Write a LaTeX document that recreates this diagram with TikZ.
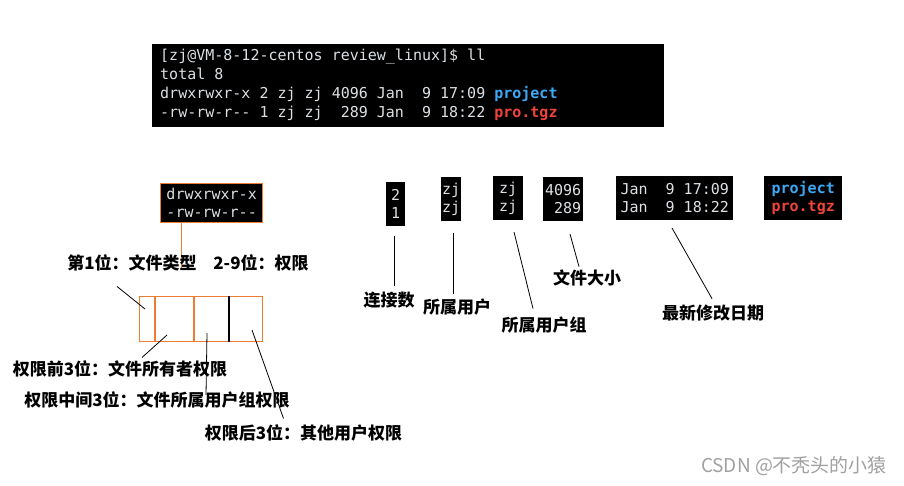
\documentclass[tikz,border=0pt]{standalone}
\usepackage{fontspec}
\usepackage{xcolor}
\usepackage{tikz}
\usetikzlibrary{calc}
\newfontfamily\termfont{DejaVu Sans Mono}
\newfontfamily\cjkfont{Noto Sans CJK SC}
\definecolor{orng}{HTML}{ED7D31}
\definecolor{termfg}{HTML}{DCE0E4}
\definecolor{dirc}{HTML}{3DA8F5}
\definecolor{tgzc}{HTML}{F0453A}
\definecolor{wmark}{HTML}{A0A0A0}
\tikzset{
  term/.style={fill=black, inner sep=0pt, anchor=north west},
  tline/.style={text=termfg, font=\termfont\fontsize{15}{18}\selectfont, anchor=base west, inner sep=0pt},
  cell/.style={fill=black, text=termfg, font=\termfont\fontsize{15}{18}\selectfont,
               inner xsep=1pt, inner ysep=0pt, anchor=north west, minimum height=44pt, align=left},
  lab/.style={font=\cjkfont\bfseries\fontsize{17}{20}\selectfont, inner sep=1pt},
  ptr/.style={draw=black, line width=0.8pt},
  oline/.style={draw=orng, line width=1.1pt},
}

\begin{document}
\begin{tikzpicture}[x=1pt, y=-1pt]
  \useasboundingbox (0,0) rectangle (904,485);
  % terminal output
  \node[term, minimum width=512pt, minimum height=83pt] (term) at (152,44) {};
  \foreach \y/\t in {60/{[zj@VM-8-12-centos review\_linux]\$ ll}, 79/{total 8},
                     98/{drwxrwxr-x 2 zj zj 4096 Jan~~9 17:09 \textcolor{dirc}{\bfseries project}},
                     117/{-rw-rw-r-- 1 zj zj~~289 Jan~~9 18:22 \textcolor{tgzc}{\bfseries pro.tgz}}}
    \node[tline] (ln\y) at (160,\y) {\t};

  % permission bits
  \node[cell, draw=orng, line width=1.3pt, minimum width=102pt, minimum height=39pt] (blk) at (160,183)
    {drwxrwxr-x\\-rw-rw-r--};
  \coordinate (otip) at (181.7,270);
  \draw[oline] (blk.south -| otip) -- (otip);
  \node[lab] (typl) at (132,263) {第1位：文件类型};
  \node[lab] (rngl) at (261,263) {2-9位：权限};

  \node[draw=orng, line width=1.1pt, minimum width=123pt, minimum height=45pt, inner sep=0pt,
        anchor=north west] (perm) at (139,296) {};
  \foreach \dx in {16,55}
    \draw[oline] ($(perm.north west)+(\dx,0)$) -- ($(perm.south west)+(\dx,0)$);
  \draw[ptr, line width=1.1pt] ($(perm.north west)+(90,0)$) -- ($(perm.south west)+(90,0)$);

  \coordinate (c1) at (145,309);
  \coordinate (c2) at (167,335);
  \coordinate (c3) at (207,333);
  \coordinate (c4) at (252,330);
  \node[lab] (ownl) at (120,369) {权限前3位：文件所有者权限};
  \node[lab] (midl) at (157,400) {权限中间3位：文件所属用户组权限};
  \node[lab] (othl) at (303.5,433) {权限后3位：其他用户权限};
  \draw[ptr] ([xshift=-15pt,yshift=-14pt]typl.south) -- (c1);
  \draw[ptr] (c2) -- ([xshift=22pt,yshift=2pt]ownl.north);
  \draw[ptr] (c3) -- ([xshift=49pt,yshift=5pt]midl.center);
  \draw[ptr] (c4) -- ([xshift=-20pt,yshift=5pt]othl.north);

  % the other columns
  \foreach \x/\y/\w/\n/\t in {386/182/19/lnk/{2\\1}, 441/177/20/own/{zj\\zj}, 493/176/30/grp/{zj\\zj},
                              616/176/117/dat/{Jan~~9 17:09\\Jan~~9 18:22}}
    \node[cell, minimum width=\w pt] (\n) at (\x,\y) {\t};
  \node[cell, minimum width=40pt, align=right] (siz) at (543,177) {4096\\289};
  \node[cell, minimum width=78pt] (nam) at (764,176)
    {\textcolor{dirc}{\bfseries project}\\\textcolor{tgzc}{\bfseries pro.tgz}};

  \node[lab] (lnkl) at (389,300) {连接数};
  \node[lab] (usrl) at (457,307) {所属用户};
  \node[lab] (grpl) at (544,325) {所属用户组};
  \node[lab] (sizl) at (587,278) {文件大小};
  \node[lab] (datl) at (713,313) {最新修改日期};
  \coordinate (p1) at (394,236);
  \coordinate (p2) at (453,233);
  \coordinate (p3) at (514,232);
  \coordinate (p4) at (570,234);
  \coordinate (p5) at (672,228);
  \draw[ptr] (p1) -- ([xshift=5pt,yshift=5pt]lnkl.north);
  \draw[ptr] (p2) -- ([xshift=-4pt,yshift=4pt]usrl.north);
  \draw[ptr] (p3) -- ([xshift=-11pt,yshift=7pt]grpl.north);
  \draw[ptr] (p4) -- ([xshift=-8pt,yshift=2pt]sizl.north);
  \draw[ptr] (p5) -- ([xshift=-1pt,yshift=5pt]datl.north);

  \node[font=\cjkfont\fontsize{19}{22}\selectfont, text=wmark, inner sep=0pt] (wm) at (794,466)
    {CSDN @不秃头的小猿};
\end{tikzpicture}
\end{document}
